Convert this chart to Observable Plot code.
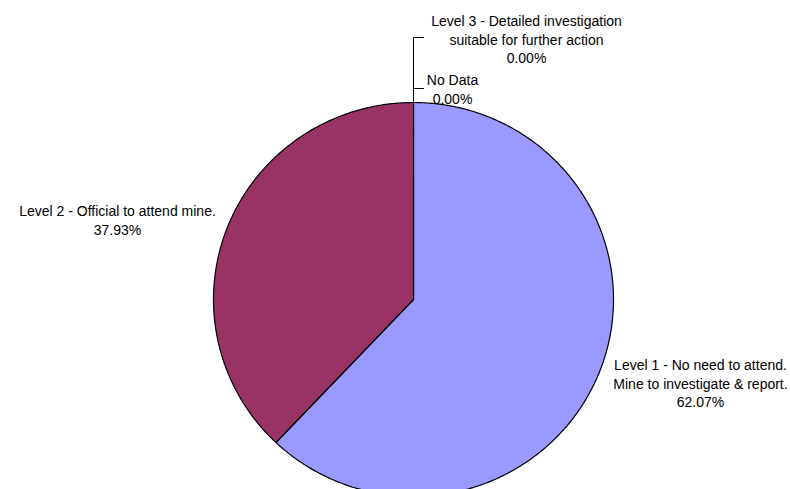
<!DOCTYPE html>
<html>
<head>
<meta charset="utf-8">
<script src="https://cdn.jsdelivr.net/npm/d3@7"></script>
<script src="https://cdn.jsdelivr.net/npm/@observablehq/plot@0.6"></script>
<style>
  html, body { margin: 0; padding: 0; background: #fff; }
  #chart { width: 790px; height: 489px; overflow: hidden; }
</style>
</head>
<body>
<div id="chart"></div>
<script>
// ---- data ----
const categories = [
  "Level 1 - No need to attend.\nMine to investigate & report.",
  "Level 2 - Official to attend mine.",
  "Level 3 - Detailed investigation\nsuitable for further action",
  "No Data"
];
const values = [62.07, 37.93, 0.00, 0.00];
const percentLabels = ["62.07%", "37.93%", "0.00%", "0.00%"];

// ---- styles / layout (not data) ----
const colors = ["#9999FF", "#993366", "#FFFFCC", "#CCFFFF"];
const W = 790, H = 489;
const cx = 413, cy = 299;          // pie centre in pixels
const rx = 200, ry = 197;          // pie radii in pixels
// label anchor (centre x, top y) in pixels
const labelPos = [[700, 357], [117, 203], [526, 13], [452, 72]];
// leader lines for the zero-value slices (pixel y of the horizontal tick)
const leaderY = [null, null, 37, 88];
const tickLen = 10;

// ---- geometry from the data ----
const pie = d3.pie().sort(null).value(d => d.value);
const arcs = pie(categories.map((c, i) => ({category: c, value: values[i], i})));

const slicePts = [];
arcs.forEach(a => {
  if (a.endAngle - a.startAngle <= 0) return;
  const n = Math.max(2, Math.ceil((a.endAngle - a.startAngle) / 0.01));
  slicePts.push({s: a.data.i, x: 0, y: 0});
  for (let k = 0; k <= n; k++) {
    const t = a.startAngle + (a.endAngle - a.startAngle) * k / n;
    slicePts.push({s: a.data.i, x: rx * Math.sin(t), y: ry * Math.cos(t)});
  }
  slicePts.push({s: a.data.i, x: 0, y: 0});
});

const leaderPts = [];
arcs.forEach(a => {
  const i = a.data.i;
  if (leaderY[i] == null) return;
  const t = a.startAngle;
  const x0 = rx * Math.sin(t), y0 = ry * Math.cos(t);
  leaderPts.push({s: i, x: x0, y: y0});
  leaderPts.push({s: i, x: x0, y: cy - leaderY[i]});
  leaderPts.push({s: i, x: x0 + tickLen, y: cy - leaderY[i]});
});

const labels = categories.map((c, i) => ({
  text: c + "\n" + percentLabels[i],
  x: labelPos[i][0] - cx,
  y: cy - labelPos[i][1]
}));

const plot = Plot.plot({
  width: W,
  height: H,
  margin: 0,
  x: {domain: [-cx, W - cx], axis: null},
  y: {domain: [cy - H, cy], axis: null},
  style: {fontFamily: "Liberation Sans, Arial, sans-serif", background: "#fff"},
  marks: [
    Plot.line(slicePts, {
      x: "x", y: "y", z: "s",
      fill: d => colors[d.s],
      stroke: "#000", strokeWidth: 1.2, strokeLinejoin: "round"
    }),
    Plot.line(leaderPts, {x: "x", y: "y", z: "s", stroke: "#000", strokeWidth: 1}),
    Plot.text(labels, {
      x: "x", y: "y", text: "text",
      textAnchor: "middle", lineAnchor: "top",
      fontSize: 14, lineHeight: 1.3, fill: "#000"
    })
  ]
});
document.getElementById("chart").appendChild(plot);
</script>
</body>
</html>
